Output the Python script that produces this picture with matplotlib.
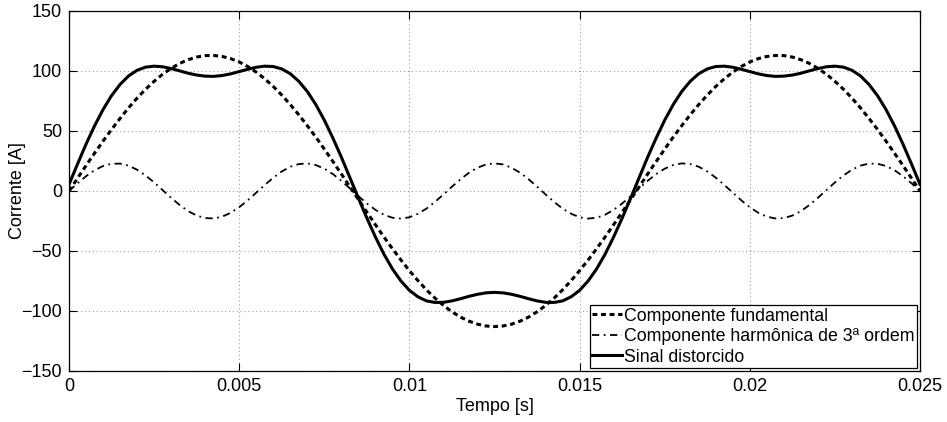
import numpy as np
import matplotlib
matplotlib.use("Agg")
import matplotlib.pyplot as plt

plt.rcParams['font.family'] = ['Liberation Sans', 'DejaVu Sans']

# amostras a cada 0.25 ms
tempo = np.arange(101) * 0.00025

fundamental = [
    0.0, 10.6, 21.2, 31.5, 41.6, 51.3, 60.5, 69.3, 77.4, 84.8,
    91.4, 97.3, 102.2, 106.3, 109.4, 111.6, 112.8, 112.9, 112.1, 110.3,
    107.5, 103.7, 99.0, 93.5, 87.1, 79.9, 72.0, 63.5, 54.4, 44.9,
    34.9, 24.6, 14.2, 3.5, -7.1, -17.7, -28.1, -38.3, -48.1, -57.5,
    -66.4, -74.7, -82.4, -89.3, -95.4, -100.7, -105.1, -108.5, -111.0, -112.5,
    -113.0, -112.5, -111.0, -108.5, -105.1, -100.7, -95.4, -89.3, -82.4, -74.7,
    -66.4, -57.5, -48.1, -38.3, -28.1, -17.7, -7.1, 3.5, 14.2, 24.6,
    34.9, 44.9, 54.4, 63.5, 72.0, 79.9, 87.1, 93.5, 99.0, 103.7,
    107.5, 110.3, 112.1, 112.9, 112.8, 111.6, 109.4, 106.3, 102.2, 97.3,
    91.4, 84.8, 77.4, 69.3, 60.5, 51.3, 41.6, 31.5, 21.2, 10.6,
    0.0,
]

harmonica = [
    0.0, 6.4, 12.3, 17.3, 20.8, 22.7, 22.8, 21.1, 17.7, 12.9,
    7.1, 0.7, -5.7, -11.7, -16.8, -20.5, -22.6, -22.9, -21.4, -18.2,
    -13.5, -7.8, -1.4, 5.0, 11.1, 16.3, 20.2, 22.4, 23.0, 21.6,
    18.6, 14.1, 8.5, 2.2, -4.3, -10.4, -15.7, -19.8, -22.3, -23.0,
    -21.9, -19.0, -14.7, -9.1, -2.9, 3.6, 9.8, 15.2, 19.4, 22.1,
    23.0, 22.1, 19.4, 15.2, 9.8, 3.6, -2.9, -9.1, -14.7, -19.0,
    -21.9, -23.0, -22.3, -19.8, -15.7, -10.4, -4.3, 2.2, 8.5, 14.1,
    18.6, 21.6, 23.0, 22.4, 20.2, 16.3, 11.1, 5.0, -1.4, -7.8,
    -13.5, -18.2, -21.4, -22.9, -22.6, -20.5, -16.8, -11.7, -5.7, 0.7,
    7.1, 12.9, 17.7, 21.1, 22.8, 22.7, 20.8, 17.3, 12.3, 6.4,
    0.0,
]

distorcido = [
    5.5, 22.5, 39.0, 54.3, 67.9, 79.5, 88.8, 95.9, 100.6, 103.2,
    104.0, 103.5, 102.0, 100.1, 98.1, 96.6, 95.7, 95.5, 96.2, 97.6,
    99.5, 101.4, 103.1, 104.0, 103.7, 101.7, 97.7, 91.4, 82.9, 72.0,
    59.0, 44.2, 28.2, 11.2, -5.9, -22.6, -38.3, -52.6, -64.9, -75.0,
    -82.8, -88.2, -91.6, -92.9, -92.8, -91.6, -89.8, -87.8, -86.1, -84.9,
    -84.5, -84.9, -86.1, -87.8, -89.8, -91.6, -92.8, -92.9, -91.6, -88.2,
    -82.8, -75.0, -64.9, -52.6, -38.3, -22.6, -5.9, 11.2, 28.2, 44.2,
    59.0, 72.0, 82.9, 91.4, 97.7, 101.7, 103.7, 104.0, 103.1, 101.4,
    99.5, 97.6, 96.2, 95.5, 95.7, 96.6, 98.1, 100.1, 102.0, 103.5,
    104.0, 103.2, 100.6, 95.9, 88.8, 79.5, 67.9, 54.3, 39.0, 22.5,
    5.5,
]

xticks = [0, 0.005, 0.01, 0.015, 0.02, 0.025]
xticklabels = ['0', '0.005', '0.01', '0.015', '0.02', '0.025']
yticks = [-150, -100, -50, 0, 50, 100, 150]

fig = plt.figure(figsize=(9.47, 4.22), dpi=100)
ax = fig.add_axes([0.0729, 0.1209, 0.8986, 0.8531])

ax.plot(tempo, fundamental, color='k', lw=2.2, linestyle=(0, (1.6, 1.2)),
        label='Componente fundamental')
ax.plot(tempo, harmonica, color='k', lw=1.3, linestyle=(0, (4, 2.5, 1, 2.5)),
        label='Componente harmônica de 3ª ordem')
ax.plot(tempo, distorcido, color='k', lw=2.2, label='Sinal distorcido')

ax.set_xlim(0, 0.025)
ax.set_ylim(-150, 150)
ax.set_xticks(xticks)
ax.set_xticklabels(xticklabels)
ax.set_yticks(yticks)
ax.grid(True, linestyle=(0, (1, 2.5)), color='#a0a0a0', lw=0.8)
ax.tick_params(direction='in', top=True, right=True, length=6, width=0.8,
               labelsize=13, pad=5)
for s in ax.spines.values():
    s.set_linewidth(0.9)

ax.set_xlabel('Tempo [s]', fontsize=13, labelpad=2)
ax.set_ylabel('Corrente [A]', fontsize=13)
ax.yaxis.set_label_coords(-0.05, 0.5)

leg = ax.legend(loc='lower right', fontsize=12.8, handlelength=1.7,
                handletextpad=0.1, labelspacing=0.2, borderpad=0.15,
                borderaxespad=0.15, fancybox=False, framealpha=1)
leg.get_frame().set_edgecolor('k')
leg.get_frame().set_linewidth(0.9)

fig.savefig('out.png', dpi=100)
